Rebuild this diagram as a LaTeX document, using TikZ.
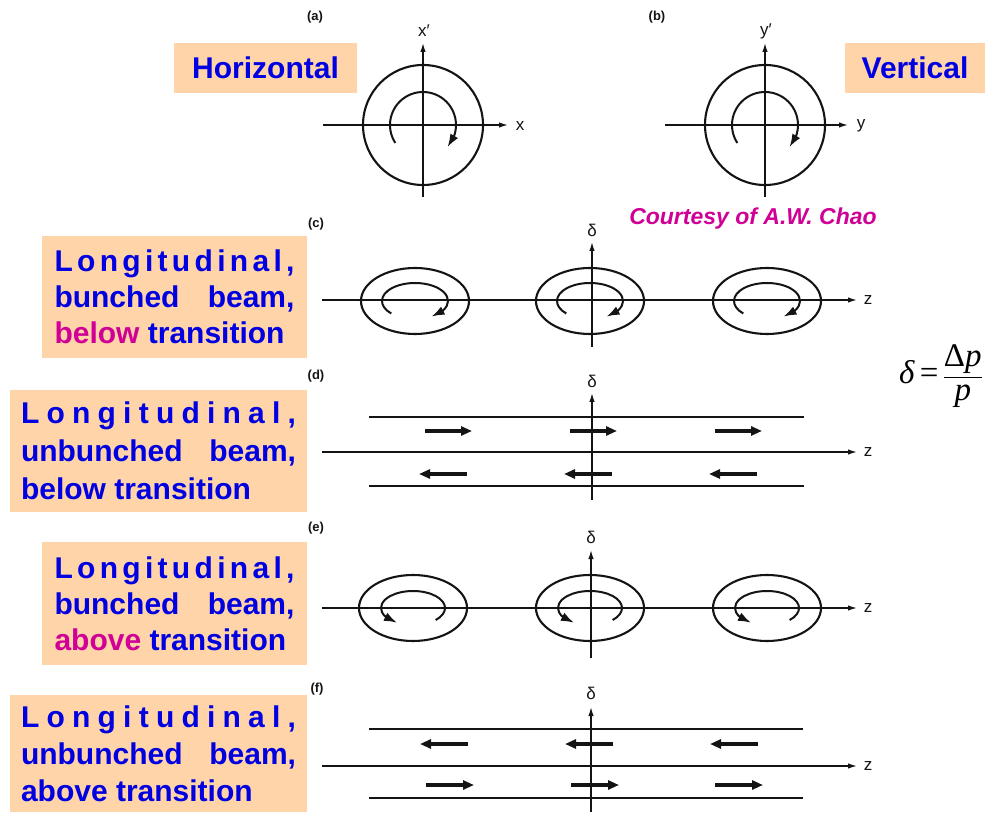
\documentclass[tikz,border=0pt]{standalone}
\usepackage{fontspec}
\setmainfont{Liberation Sans}
\newfontfamily\formulafont{Liberation Serif}
\usetikzlibrary{arrows.meta,bending}
\definecolor{peach}{RGB}{255,212,168}
\definecolor{titleblue}{RGB}{0,0,225}
\definecolor{accent}{RGB}{208,0,150}
\definecolor{ink}{RGB}{20,20,20}
% stretch a line of text to a given width
\newcommand{\spread}[2]{\makebox[#1][s]{#2}}
% the letter-spaced heading word, filling a given width
\newcommand{\longword}[1]{\makebox[#1]{L\hfill o\hfill n\hfill g\hfill i\hfill t\hfill u\hfill d\hfill i\hfill n\hfill a\hfill l\hfill ,}}

\begin{document}
\begin{tikzpicture}[x=1pt,y=1pt,
  ax/.style={draw=ink,line width=1.4pt,-{Latex[length=9pt,width=5.5pt]}},
  rail/.style={draw=ink,line width=1.4pt},
  orbit/.style={draw=ink,line width=2.1pt},
  spin/.style={draw=ink,line width=2pt,-{Latex[length=13pt,width=9pt,flex]}},
  flow/.style={draw=ink,line width=3.2pt,-{Triangle[length=11pt,width=9pt]}},
  tag/.style={font=\fontsize{13}{13}\selectfont\bfseries,text=ink},
  axlab/.style={font=\fontsize{17}{17}\selectfont,text=ink},
  namebox/.style={fill=peach,inner sep=0pt,text=titleblue,align=left,
    font=\fontsize{30}{#1}\selectfont\bfseries},
  namebox/.default=36pt]
\useasboundingbox (0,0) rectangle (1000,814);
\fill[white] (0,0) rectangle (1000,814);

% ---- plane names ----
\node[namebox, minimum width=183pt, minimum height=50pt] (hbox) at (265.5,746) {Horizontal};
\node[namebox, minimum width=140pt, minimum height=50pt] (vbox) at (915,746) {Vertical};
\node[namebox=36pt, minimum width=265pt, minimum height=122pt] (cbox) at (174.5,517)
  {\longword{240pt}\\\spread{240pt}{bunched beam,}\\{\color{accent}below} transition};
\node[namebox=38pt, minimum width=297pt, minimum height=122pt] (dbox) at (158.5,363)
  {\longword{275pt}\\\spread{275pt}{unbunched beam,}\\below transition};
\node[namebox=36pt, minimum width=265pt, minimum height=123pt] (ebox) at (174.5,210.5)
  {\longword{240pt}\\\spread{240pt}{bunched beam,}\\{\color{accent}above} transition};
\node[namebox=37pt, minimum width=297pt, minimum height=117pt] (fbox) at (158.5,60.5)
  {\longword{275pt}\\\spread{275pt}{unbunched beam,}\\above transition};

\node[font=\fontsize{23}{23}\selectfont\bfseries\itshape, text=accent, anchor=base] (credit)
  at (753,589) {Courtesy of A.W. Chao};

\node (defn) at (941,438) {\formulafont\fontsize{33}{33}\selectfont
  $\displaystyle\hbox{\itshape δ\,}\hbox{=}\,\frac{\hbox{Δ\itshape p}}{\hbox{\itshape p}}$};

% ---- (a) horizontal phase space ----
\node[tag] (ta) at (315,797) {(a)};
\coordinate (A) at (423,689);
\draw[orbit] (A) circle[radius=60];
\draw[spin] ([shift={(213:33)}]A) arc[start angle=213,end angle=-42,radius=33];
\draw[ax] (323,689) -- (508,689);
\draw[ax] (423,617) -- (423,771);
\node[axlab] (lxa) at (520,688) {x};
\node[axlab] (lxp) at (424,783) {x′};

% ---- (b) vertical phase space ----
\node[tag] (tb) at (657,797) {(b)};
\coordinate (B) at (765,689);
\draw[orbit] (B) circle[radius=60];
\draw[spin] ([shift={(213:33)}]B) arc[start angle=213,end angle=-42,radius=33];
\draw[ax] (665,689) -- (848,689);
\draw[ax] (765,617) -- (765,771);
\node[axlab] (lya) at (861,688) {y};
\node[axlab] (lyp) at (766,783) {y′};

% ---- (c) bunched beam, below transition ----
\node[tag] (tc) at (316,590) {(c)};
\foreach \cx in {415,590,767} {
  \draw[orbit] (\cx,513) ellipse[x radius=54,y radius=33];
  \draw[spin] (\cx,513) ++(224:33 and 18) arc[start angle=224,end angle=-60,x radius=33,y radius=18];
}
\draw[ax] (322,514) -- (857,514);
\draw[ax] (592,467) -- (592,572);
\node[axlab] (dc) at (592,584) {δ};
\node[axlab] (zc) at (868,514) {z};

% ---- (d) unbunched beam, below transition ----
\node[tag] (td) at (316,438) {(d)};
\draw[rail] (369,397) -- (804,397);
\draw[rail] (369,328) -- (804,328);
\draw[ax] (322,362) -- (857,362);
\draw[ax] (592,314) -- (592,421);
\foreach \a in {425,570,715} \draw[flow] (\a,383) -- ++(47,0);
\foreach \a in {467,612,757} \draw[flow] (\a,340) -- ++(-48,0);
\node[axlab] (dd) at (592,433) {δ};
\node[axlab] (zd) at (868,362) {z};

% ---- (e) bunched beam, above transition ----
\node[tag] (te) at (316,286) {(e)};
\foreach \cx in {413,590,767} {
  \draw[orbit] (\cx,206) ellipse[x radius=54,y radius=33];
  \draw[spin] (\cx,206) ++(-45:32 and 17) arc[start angle=-45,end angle=240,x radius=32,y radius=17];
}
\draw[ax] (322,206) -- (857,206);
\draw[ax] (591,156) -- (591,264);
\node[axlab] (de) at (591,277) {δ};
\node[axlab] (ze) at (868,206) {z};

% ---- (f) unbunched beam, above transition ----
\node[tag] (tf) at (317,125) {(f)};
\draw[rail] (369,85) -- (803,85);
\draw[rail] (369,16) -- (803,16);
\draw[ax] (322,48) -- (857,48);
\draw[ax] (591,2) -- (591,107);
\foreach \a in {468,613,758} \draw[flow] (\a,70) -- ++(-48,0);
\foreach \a in {426,571,715} \draw[flow] (\a,29) -- ++(48,0);
\node[axlab] (df) at (591,121) {δ};
\node[axlab] (zf) at (868,48) {z};
\end{tikzpicture}
\end{document}
